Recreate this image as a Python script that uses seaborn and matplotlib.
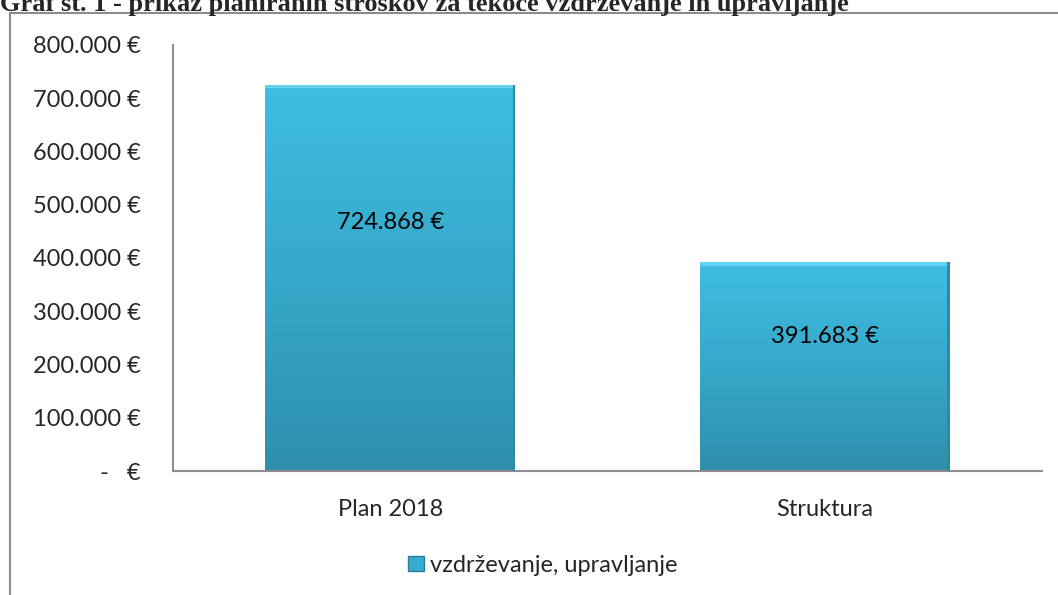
import numpy as np
import pandas as pd
import seaborn as sns
import matplotlib
matplotlib.use("Agg")
import matplotlib.pyplot as plt
from matplotlib.colors import LinearSegmentedColormap
from matplotlib.patches import Rectangle
from matplotlib.ticker import FuncFormatter

categories = ["Plan 2018", "Struktura"]
values = [724868, 391683]
series_name = "vzdrževanje, upravljanje"
title = "Graf št. 1 - prikaz planiranih stroškov za tekoče vzdrževanje in upravljanje"
y_ticks = [0, 100000, 200000, 300000, 400000, 500000, 600000, 700000, 800000]


def euro(v, pos=None):
    if v == 0:
        return "-   €"
    return f"{v:,.0f} €".replace(",", ".")


def main():
    sns.set_style("white")
    plt.rcParams["font.family"] = ["Lato", "DejaVu Sans"]

    df = pd.DataFrame({"kategorija": categories, "znesek": values})

    fig = plt.figure(figsize=(10.58, 5.95), dpi=100)
    ax = fig.add_axes([0.1635, 0.2084, 0.8214, 0.716])

    sns.barplot(data=df, x="kategorija", y="znesek", color="#3AB3D8",
                width=0.575, ax=ax, saturation=1)

    # gradient fill like the excel bevel bars
    cmap = LinearSegmentedColormap.from_list("bar", ["#2E8FAB", "#36A8CA", "#3FBDE2"])
    grad = np.linspace(0, 1, 256).reshape(-1, 1)
    for p in ax.patches:
        x0, y0 = p.get_x(), p.get_y()
        w, h = p.get_width(), p.get_height()
        im = ax.imshow(grad, cmap=cmap, aspect="auto", origin="lower",
                       extent=[x0, x0 + w, y0, y0 + h], zorder=2)
        im.set_clip_path(p)
        p.set_facecolor("none")
        # thin bevel: light top, darker right side
        ax.add_patch(Rectangle((x0, y0 + h - 6000), w, 6000, color="#62D2F0",
                               lw=0, zorder=3))
        ax.add_patch(Rectangle((x0 + w - 0.006, y0), 0.006, h, color="#2C8AA6",
                               lw=0, zorder=3))

    ax.set_xlim(-0.5, 1.5)
    ax.set_ylim(0, 800000)
    ax.set_yticks(y_ticks)
    ax.yaxis.set_major_formatter(FuncFormatter(euro))
    ax.set_xlabel("")
    ax.set_ylabel("")
    ax.tick_params(axis="y", labelsize=17, length=0, pad=23)
    ax.tick_params(axis="x", labelsize=17, length=0, pad=20)

    for side in ["top", "right"]:
        ax.spines[side].set_visible(False)
    for side in ["left", "bottom"]:
        ax.spines[side].set_color("#8C8C8C")
        ax.spines[side].set_linewidth(1.5)

    for i, v in enumerate(values):
        ax.text(i, v * 0.645, euro(v), ha="center", va="center", fontsize=17,
                color="black", zorder=4)

    # legend
    handle = Rectangle((0, 0), 1, 1, facecolor="#37ABD0", edgecolor="#2A7F98")
    fig.legend([handle], [series_name], loc="center", bbox_to_anchor=(0.513, 0.05),
               frameon=False, fontsize=17, handlelength=0.65, handleheight=0.65,
               handletextpad=0.25)

    # outer chart frame, cut off on right and bottom
    fig.patches.append(Rectangle((10 / 1058, -0.05), 1.1, 1 - 13 / 595 + 0.05,
                                 transform=fig.transFigure, fill=False,
                                 edgecolor="#8C8C8C", lw=1.5))

    fig.text(0.0, 1 - 11 / 595, title, family=["Liberation Serif", "DejaVu Serif"],
             fontweight="bold", fontsize=19, ha="left", va="baseline")

    fig.savefig("out.png", dpi=100)


if __name__ == "__main__":
    main()
